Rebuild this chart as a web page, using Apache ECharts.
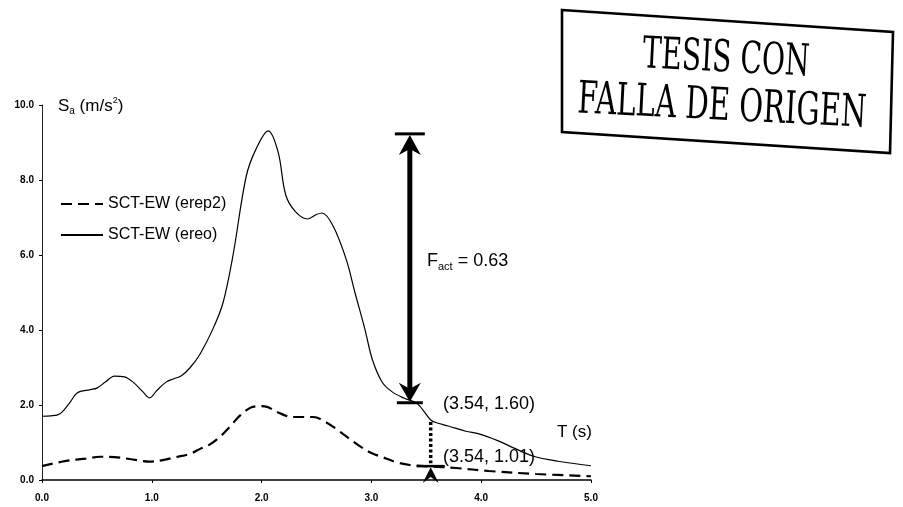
<!DOCTYPE html>
<html>
<head>
<meta charset="utf-8">
<script src="https://cdn.jsdelivr.net/npm/echarts@6/dist/echarts.min.js"></script>
<style>
  html, body { margin: 0; padding: 0; background: #ffffff; }
  #chart { width: 903px; height: 507px; }
</style>
</head>
<body>
<div id="chart"></div>
<script>
// Response spectrum, SCT-EW record (ereo): period T (s) and Sa (m/s^2)
const periodsEreo = [0.0, 0.08, 0.16, 0.25, 0.32, 0.44, 0.5, 0.58, 0.66, 0.75, 0.83, 0.92, 0.98,
  1.05, 1.13, 1.2, 1.27, 1.35, 1.44, 1.56, 1.65, 1.74, 1.86, 1.95, 2.06, 2.15, 2.22, 2.31, 2.42,
  2.5, 2.55, 2.65, 2.77, 2.85, 2.94, 3.01, 3.1, 3.19, 3.3, 3.42, 3.54, 3.6, 3.7, 3.86, 3.98,
  4.15, 4.3, 4.47, 4.7, 5.0];
const saEreo = [1.70, 1.71, 1.76, 2.05, 2.32, 2.41, 2.45, 2.62, 2.77, 2.75, 2.61, 2.35, 2.19,
  2.40, 2.61, 2.70, 2.78, 3.00, 3.36, 4.05, 4.74, 6.00, 8.10, 8.83, 9.31, 8.75, 7.60, 7.15, 6.96,
  7.08, 7.12, 6.78, 5.89, 5.00, 4.03, 3.20, 2.60, 2.35, 2.18, 2.03, 1.60, 1.52, 1.44, 1.30, 1.23,
  1.05, 0.85, 0.64, 0.50, 0.38];

// Response spectrum, SCT-EW record (erep2)
const periodsErep2 = [0.0, 0.22, 0.4, 0.53, 0.66, 0.8, 0.98, 1.1, 1.22, 1.35, 1.44, 1.53, 1.62,
  1.72, 1.8, 1.9, 1.98, 2.05, 2.15, 2.28, 2.47, 2.58, 2.68, 2.8, 2.89, 3.0, 3.1, 3.22, 3.35,
  3.54, 3.77, 4.07, 4.5, 5.0];
const saErep2 = [0.37, 0.51, 0.57, 0.62, 0.61, 0.56, 0.49, 0.53, 0.61, 0.70, 0.83, 0.95, 1.15,
  1.45, 1.71, 1.93, 1.97, 1.95, 1.80, 1.68, 1.68, 1.55, 1.36, 1.10, 0.91, 0.72, 0.61, 0.48, 0.40,
  0.36, 0.32, 0.24, 0.16, 0.10];

const seriesNames = ['SCT-EW (erep2)', 'SCT-EW (ereo)'];

// Axis ranges
const xRange = [0, 5, 1];
const yRange = [0, 10, 2];

// Annotations: [T, upper Sa, lower Sa]
const factArrow = [3.35, 9.23, 2.06];
const ratioMarker = [3.54, 1.60, 0.37];
const factLabel = '0.63';
const upperPointLabel = '(3.54, 1.60)';
const lowerPointLabel = '(3.54, 1.01)';

const stampLines = ['TESIS CON', 'FALLA DE ORIGEN'];

const zip = (xs, ys) => xs.map((x, i) => [x, ys[i]]);

const chart = echarts.init(document.getElementById('chart'), null, { renderer: 'canvas' });

// horizontal scale so the stamp lettering keeps its condensed width
const measureCtx = document.createElement('canvas').getContext('2d');
function condense(text, font, target) {
  measureCtx.font = font;
  return target / measureCtx.measureText(text).width;
}
const stampFont = 'DejaVu Serif';
const stampSize1 = 44, stampSize2 = 45;
const sx1 = condense(stampLines[0], stampSize1 + 'px "' + stampFont + '"', 167);
const sx2 = condense(stampLines[1], stampSize2 + 'px "' + stampFont + '"', 289);

function renderAnnotations(params, api) {
  const [xa, ya0] = api.coord([factArrow[0], factArrow[1]]);
  const ya1 = api.coord([factArrow[0], factArrow[2]])[1];
  const [xg, yg0] = api.coord([ratioMarker[0], ratioMarker[1]]);
  const yg1 = api.coord([ratioMarker[0], ratioMarker[2]])[1];
  const yAxis0 = api.coord([ratioMarker[0], 0])[1];
  const black = '#000';
  const seg = (x1, y1, x2, y2, w, dash) => ({
    type: 'line',
    shape: { x1, y1, x2, y2 },
    style: { stroke: black, lineWidth: w, lineDash: dash || null, lineCap: 'butt' }
  });
  const poly = (pts) => ({ type: 'polygon', shape: { points: pts }, style: { fill: black } });
  return {
    type: 'group',
    children: [
      // double arrow between the two spectral peaks
      seg(xa - 15, ya0, xa + 15, ya0, 3),
      seg(xa - 13, ya1, xa + 13, ya1, 3),
      seg(xa, ya0 + 12, xa, ya1 - 12, 5),
      poly([[xa, ya0 + 1], [xa - 11, ya0 + 21], [xa, ya0 + 15], [xa + 11, ya0 + 21]]),
      poly([[xa, ya1 - 1], [xa - 11, ya1 - 20], [xa, ya1 - 14], [xa + 11, ya1 - 20]]),
      // dotted link between both spectra at T = 3.54 s
      seg(xg, yg0 + 2, xg, yg1 - 3, 3.5, [3, 2.5]),
      seg(xg - 14, yg1, xg + 14, yg1, 2.5),
      poly([[xg, yg1 + 1], [xg - 8, yAxis0 + 3], [xg, yAxis0 - 3], [xg + 8, yAxis0 + 3]])
    ]
  };
}

const option = {
  animation: false,
  backgroundColor: '#ffffff',
  grid: { left: 42, top: 105, width: 549, height: 375, containLabel: false },
  xAxis: {
    type: 'value',
    min: xRange[0], max: xRange[1], interval: xRange[2],
    axisLine: { show: true, onZero: false, lineStyle: { color: '#000', width: 1.5 } },
    axisTick: { show: true, inside: false, length: 3, lineStyle: { color: '#000' } },
    splitLine: { show: false },
    axisLabel: {
      formatter: v => v.toFixed(1),
      color: '#000', fontFamily: 'Liberation Sans', fontWeight: 'bold', fontSize: 10, margin: 13
    }
  },
  yAxis: {
    type: 'value',
    min: yRange[0], max: yRange[1], interval: yRange[2],
    axisLine: { show: true, lineStyle: { color: '#222', width: 1 } },
    axisTick: { show: true, inside: false, length: 3, lineStyle: { color: '#000' } },
    splitLine: { show: false },
    axisLabel: {
      formatter: v => v.toFixed(1),
      color: '#000', fontFamily: 'Liberation Sans', fontWeight: 'bold', fontSize: 10, margin: 8
    }
  },
  legend: {
    data: seriesNames,
    orient: 'vertical',
    left: 55, top: 191,
    itemWidth: 42, itemHeight: 14, itemGap: 15,
    itemStyle: { opacity: 0 },
    textStyle: { fontFamily: 'Liberation Sans', fontSize: 16, color: '#000' },
    inactiveColor: '#000'
  },
  series: [
    {
      name: seriesNames[0],
      type: 'line',
      data: zip(periodsErep2, saErep2),
      smooth: 0.35,
      symbol: 'none',
      lineStyle: { color: '#000', width: 2.2, type: [11, 6] },
      itemStyle: { color: '#000' },
      z: 3
    },
    {
      name: seriesNames[1],
      type: 'line',
      data: zip(periodsEreo, saEreo),
      smooth: 0.35,
      symbol: 'none',
      lineStyle: { color: '#000', width: 1.2, type: 'solid' },
      itemStyle: { color: '#000' },
      z: 3
    },
    {
      name: 'annotations',
      type: 'custom',
      coordinateSystem: 'cartesian2d',
      clip: false,
      silent: true,
      data: [[factArrow[0], factArrow[1]]],
      renderItem: renderAnnotations,
      z: 4
    }
  ],
  graphic: [
    {
      type: 'text', left: 58, top: 96,
      style: {
        text: '{m|S}{sub|a}{m| (m/s}{sup|2}{m|)}',
        rich: {
          m: { fontFamily: 'Liberation Sans', fontSize: 17, color: '#000', lineHeight: 20, verticalAlign: 'middle' },
          sub: { fontFamily: 'Liberation Sans', fontSize: 10, color: '#000', lineHeight: 10, verticalAlign: 'bottom' },
          sup: { fontFamily: 'Liberation Sans', fontSize: 9, color: '#000', lineHeight: 9, verticalAlign: 'top' }
        }
      }
    },
    {
      type: 'text', left: 427, top: 252,
      style: {
        text: '{m|F}{sub|act}{m| = ' + factLabel + '}',
        rich: {
          m: { fontFamily: 'Liberation Sans', fontSize: 18, color: '#000', lineHeight: 22, verticalAlign: 'middle' },
          sub: { fontFamily: 'Liberation Sans', fontSize: 11, color: '#000', lineHeight: 11, verticalAlign: 'bottom' }
        }
      }
    },
    {
      type: 'text', x: 443, y: 404,
      style: { text: upperPointLabel, fontFamily: 'Liberation Sans', fontSize: 18, fill: '#000', verticalAlign: 'middle' }
    },
    {
      type: 'text', x: 557, y: 432,
      style: { text: 'T (s)', fontFamily: 'Liberation Sans', fontSize: 17, fill: '#000', verticalAlign: 'middle' }
    },
    {
      type: 'text', x: 443, y: 457,
      style: { text: lowerPointLabel, fontFamily: 'Liberation Sans', fontSize: 18, fill: '#000', verticalAlign: 'middle' }
    },
    // stamp in the upper right corner
    {
      type: 'polygon',
      shape: { points: [[562, 10], [893, 32], [890, 153], [562, 132]] },
      style: { fill: 'none', stroke: '#000', lineWidth: 2.6 }
    },
    {
      type: 'text', x: 726, y: 60, rotation: -0.05, scaleX: sx1,
      style: {
        text: stampLines[0], fontFamily: stampFont, fontSize: stampSize1,
        fill: '#000', align: 'center', verticalAlign: 'middle'
      }
    },
    {
      type: 'text', x: 722, y: 108, rotation: -0.05, scaleX: sx2,
      style: {
        text: stampLines[1], fontFamily: stampFont, fontSize: stampSize2,
        fill: '#000', align: 'center', verticalAlign: 'middle'
      }
    }
  ]
};

chart.setOption(option);
</script>
</body>
</html>
